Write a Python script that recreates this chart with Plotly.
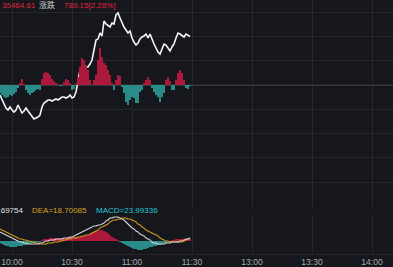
import plotly.graph_objects as go
import numpy as np

# trading-minute index (9:00 = 0, lunch 11:30-12:30 removed)
start_idx = 54
price = [35172, 35147, 35122, 35107, 35097, 35112, 35097, 35087, 35097, 35122,
         35102, 35082, 35092, 35107, 35092, 35077, 35062, 35052, 35057, 35062,
         35072, 35112, 35132, 35142, 35147, 35147, 35142, 35147, 35152, 35147,
         35157, 35162, 35162, 35157, 35162, 35172, 35157, 35162, 35187, 35247,
         35297, 35317, 35322, 35312, 35312, 35327, 35347, 35397, 35447, 35452,
         35482, 35467, 35542, 35527, 35517, 35512, 35532, 35527, 35572, 35582,
         35557, 35532, 35512, 35497, 35482, 35492, 35457, 35437, 35422, 35432,
         35452, 35462, 35467, 35477, 35457, 35477, 35447, 35427, 35407, 35387,
         35377, 35407, 35427, 35422, 35407, 35392, 35412, 35427, 35457, 35482,
         35477, 35467, 35462, 35477, 35472, 35464.61]
bars = [-8, -10, -12, -13, -12, -10, -11, -9, -7, -3,
        2, 6, 1, -5, -8, -10, -8, -7, -5, -4,
        -5, 6, 12, 13, 12, 10, 6, 4, 2, 1,
        -1, -1, 3, 6, 5, 2, -5, -4, 1, 8,
        18, 27, 25, 20, 15, 5, 0, 5, 10, 25,
        37, 28, 22, 20, 15, 10, 2, -5, 5, 10,
        9, -2, -8, -17, -20, -15, -12, -13, -18, -18,
        -7, -5, 2, 5, 8, 5, -3, -7, -10, -12,
        -17, -12, -8, 5, 8, 4, -5, -5, 5, 12,
        15, 12, 5, -3, -4, -1]
dif = [9, 8, 7, 6, 5, 4, 3, 2, 1, 0,
       -1, -1, -2, -2, -3, -3, -3, -3, -3, -3,
       -2, -2, -1, 0, 0, 1, 1, 1, 2, 2,
       2, 2, 3, 3, 3, 4, 4, 5, 6, 7,
       8, 9, 10, 11, 12, 13, 14, 15, 15, 16,
       16, 17, 18, 20, 21, 23, 23, 24, 24, 24,
       23, 22, 21, 19, 17, 15, 13, 12, 10, 9,
       7, 6, 5, 3, 2, 1, -1, -2, -2, -3,
       -3, -3, -3, -2, -2, -2, -1, -1, -1, -1,
       0, 0, 1, 2, 2, 3]
dea = [12, 11, 10, 9, 8, 7, 6, 5, 4, 3,
       2, 2, 1, 1, 0, 0, -1, -1, -2, -2,
       -3, -3, -3, -3, -2, -2, -2, -1, -1, -1,
       0, 0, 1, 1, 2, 2, 3, 3, 3, 4,
       4, 5, 5, 6, 6, 7, 8, 9, 10, 11,
       13, 14, 15, 16, 17, 19, 20, 21, 21, 22,
       22, 23, 23, 23, 22, 22, 21, 20, 19, 17,
       16, 14, 13, 11, 10, 9, 8, 7, 6, 5,
       3, 2, 1, 0, 0, -1, -1, -1, -1, -1,
       -1, -1, 0, 1, 2, 3]
macd = [-2, -3, -4, -5, -5, -6, -6, -6, -6, -5,
        -5, -5, -4, -4, -3, -3, -2, -2, -1, -1,
        -1, 1, 2, 2, 2, 3, 3, 3, 3, 3,
        3, 3, 3, 3, 4, 4, 4, 4, 4, 4,
        4, 5, 5, 5, 6, 7, 8, 9, 10, 10,
        11, 11, 10, 9, 8, 6, 4, 3, 2, 1,
        -1, -2, -3, -4, -5, -6, -7, -8, -8, -9,
        -9, -9, -8, -8, -7, -6, -6, -5, -5, -4,
        -4, -3, -2, -2, -1, -1, 1, 1, 2, 2,
        2, 2, 2, 2, 2, 2]
tick_vals = [60, 90, 120, 150, 180, 210, 240]
tick_text = ["10:00", "10:30", "11:00", "11:30", "13:00", "13:30", "14:00"]

x = list(range(start_idx, start_idx + len(price)))
UP = "#ad183d"
DOWN = "#2a8c88"
BG = "#15171c"
GRID = "#25272d"

fig = go.Figure()
fig.add_trace(go.Bar(x=x, y=bars, yaxis="y2", xaxis="x",
                     marker=dict(color=[UP if v >= 0 else DOWN for v in bars], line_width=0),
                     width=0.75, hoverinfo="skip"))
fig.add_trace(go.Scatter(x=x, y=price, mode="lines", xaxis="x", yaxis="y",
                         line=dict(color="#f4f4f4", width=1.6), hoverinfo="skip"))
fig.add_trace(go.Bar(x=x, y=macd, yaxis="y3", xaxis="x2",
                     marker=dict(color=[UP if v >= 0 else DOWN for v in macd], line_width=0),
                     width=0.6, hoverinfo="skip"))
fig.add_trace(go.Scatter(x=x, y=dea, mode="lines", xaxis="x2", yaxis="y3",
                         line=dict(color="#d49a1c", width=1.1, shape="spline"), hoverinfo="skip"))
fig.add_trace(go.Scatter(x=x, y=dif, mode="lines", xaxis="x2", yaxis="y3",
                         line=dict(color="#d8d8d8", width=1.1, shape="spline"), hoverinfo="skip"))

prange = [34612, 35647]
grid_vals = list(np.linspace(35587, 35587 - 121.5 * 8, 9))

xr = [54, 250.5]
fig.update_layout(
    width=393, height=267, margin=dict(l=0, r=0, t=0, b=13),
    paper_bgcolor=BG, plot_bgcolor=BG, showlegend=False, bargap=0,
    xaxis=dict(range=xr, domain=[0, 1], anchor="y", tickvals=tick_vals, showticklabels=False,
               showgrid=True, gridcolor=GRID, gridwidth=1, zeroline=False, showline=False, ticks=""),
    xaxis2=dict(range=xr, domain=[0, 1], anchor="y3", tickvals=tick_vals, ticktext=tick_text,
                showgrid=True, gridcolor=GRID, gridwidth=1, zeroline=False, ticks="",
                showline=True, linecolor=GRID, linewidth=1,
                tickfont=dict(family="Liberation Sans, Arial", size=8.5, color="#a8aaae")),
    yaxis=dict(range=prange, domain=[0.185, 1], tickvals=grid_vals, showticklabels=False,
               showgrid=True, gridcolor=GRID, gridwidth=1, zeroline=False, ticks=""),
    yaxis2=dict(range=[-122, 85], domain=[0.185, 1], overlaying="y", showgrid=False,
                showticklabels=False, zeroline=True, zerolinecolor="#35373d", zerolinewidth=1),
    yaxis3=dict(range=[-13, 25], domain=[0, 0.1496], anchor="x2", showgrid=False,
                showticklabels=False, zeroline=False),
)

font = "Liberation Sans, Arial, Noto Sans CJK SC"
def ann(xp, yp, text, color, anchor="left", size=8):
    fig.add_annotation(x=xp / 393, y=(254 - yp) / 254, xref="paper", yref="paper",
                       text=text, showarrow=False, xanchor=anchor, yanchor="middle",
                       xshift=0, font=dict(family=font, size=size, color=color))

ann(0, 5.5, "35464.61", "#e0243f")
ann(37, 5.5, "涨跌", "#d0d0d0")
ann(62, 5.5, "789.15[2.28%]", "#e0243f")
ann(25, 210, "DIF=30.69754", "#e0e0e0", "right")
ann(30, 210, "DEA=18.70085", "#d9a01e")
ann(94, 210, "MACD=23.99336", "#1fc8d2")

fig.write_html("out.html")
